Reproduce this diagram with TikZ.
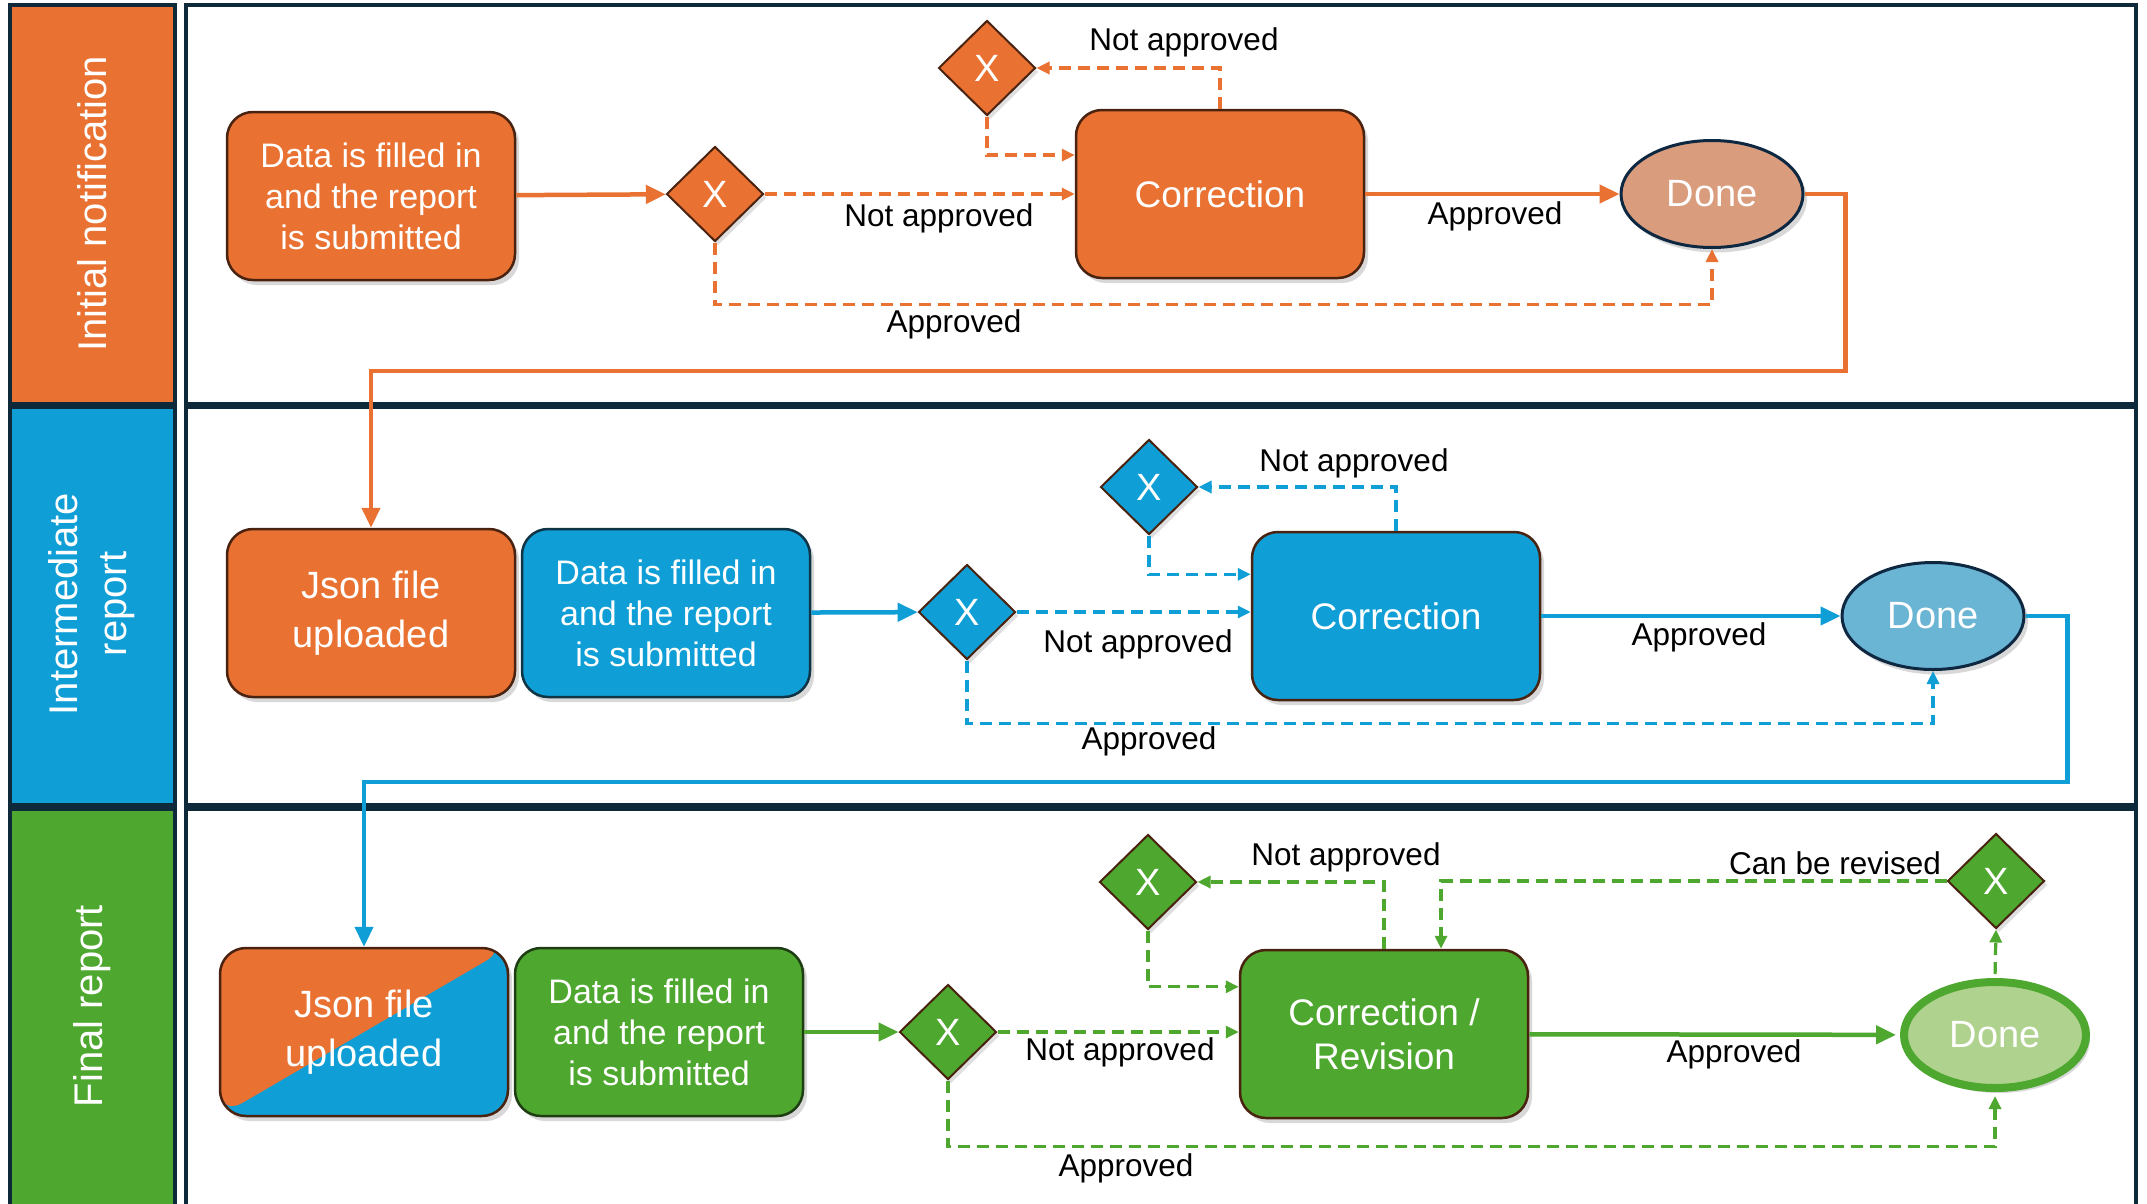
\documentclass[tikz,border=0pt]{standalone}
\usepackage{fontspec}
\setmainfont{Liberation Sans}
\usetikzlibrary{shapes.geometric,arrows.meta,shadows,calc}
\definecolor{cO}{HTML}{E97132}
\definecolor{cB}{HTML}{0F9ED5}
\definecolor{cG}{HTML}{4EA72E}
\definecolor{cOd}{HTML}{D99C7C}
\definecolor{cBd}{HTML}{6AB4D4}
\definecolor{cGd}{HTML}{B0D28F}
\definecolor{cBrown}{HTML}{4A2310}
\definecolor{cNavy}{HTML}{0E2841}
\definecolor{cNavyB}{HTML}{0E3446}
\definecolor{cDG}{HTML}{1E3D12}
\definecolor{cFrame}{HTML}{0E2A3A}
\begin{document}
\begin{tikzpicture}[x=1pt,y=-1pt,
  frame/.style={draw=cFrame, line width=3.5pt},
  lanetitle/.style={rotate=90, text=white, align=center, font=\fontsize{40}{49}\selectfont},
  box/.style={rectangle, rounded corners=26pt, minimum width=288pt, minimum height=168pt,
    draw=cBrown, line width=2.5pt, text=white, align=center, inner sep=0pt,
    font=\fontsize{34}{41}\selectfont,
    drop shadow={opacity=0.3, shadow xshift=4pt, shadow yshift=-5pt}},
  big/.style={font=\fontsize{37}{44}\selectfont},
  bigj/.style={font=\fontsize{38}{49}\selectfont},
  dia/.style={diamond, draw=cBrown, line width=2pt, minimum width=97pt, minimum height=95pt,
    inner sep=0pt, text=white, font=\fontsize{38}{40}\selectfont,
    drop shadow={opacity=0.25, shadow xshift=3pt, shadow yshift=-4pt}},
  done/.style={ellipse, draw=cNavy, line width=3pt, minimum width=182pt, minimum height=107pt,
    inner sep=0pt, text=white, font=\fontsize{38}{44}\selectfont,
    drop shadow={opacity=0.3, shadow xshift=4pt, shadow yshift=-5pt}},
  lbl/.style={text=black, inner sep=0pt, font=\fontsize{31.5}{36}\selectfont},
  flow/.style={line width=4.5pt, -{Triangle[length=20pt,width=18pt]}},
  dflow/.style={line width=3.2pt, dash pattern=on 12pt off 7pt, -{Triangle[length=13pt,width=12pt]}}
]
\useasboundingbox (0,0) rectangle (2147,1203);
\fill[white] (0,0) rectangle (2147,1203);

% lanes
\draw[frame, fill=cO] (10,5) rectangle (175,404);
\draw[frame, fill=cB] (10,407) rectangle (175,805);
\draw[frame, fill=cG] (10,809) rectangle (175,1215);
\draw[frame, fill=white] (186,5) rectangle (2136,404);
\draw[frame, fill=white] (186,407) rectangle (2136,805);
\draw[frame, fill=white] (186,809) rectangle (2136,1215);

\node[lanetitle] (L1) at (92,204) {Initial notification};
\node[lanetitle] (L2) at (92,604) {Intermediate\\report};
\node[lanetitle] (L3) at (92,1006) {Final report};

% row 1
\node[box, fill=cO] (A1) at (371,196) {Data is filled in\\and the report\\is submitted};
\node[dia, fill=cO] (D1) at (715,194) {X};
\node[dia, fill=cO] (D1b) at (987,68) {X};
\node[box, big, fill=cO] (C1) at (1220,194) {Correction};
\node[done, fill=cOd] (E1) at (1712,194) {Done};

% row 2
\node[box, bigj, fill=cO] (J2) at (371,613) {Json file\\uploaded};
\node[box, fill=cB, draw=cNavyB] (A2) at (666,613) {Data is filled in\\and the report\\is submitted};
\node[dia, fill=cB] (D2) at (967,612) {X};
\node[dia, fill=cB] (D2b) at (1149,487) {X};
\node[box, big, fill=cB] (C2) at (1396,616) {Correction};
\node[done, fill=cBd] (E2) at (1933,616) {Done};

% row 3
\node[box, bigj, fill=cB, path picture={\fill[cO] (path picture bounding box.south west) -- (path picture bounding box.north west) -- (path picture bounding box.north east) -- cycle;}] (J3) at (364,1032) {Json file\\uploaded};
\node[box, fill=cG, draw=cDG] (A3) at (659,1032) {Data is filled in\\and the report\\is submitted};
\node[dia, fill=cG] (D3) at (948,1032) {X};
\node[dia, fill=cG] (D3b) at (1148,882) {X};
\node[box, big, fill=cG] (C3) at (1384,1034) {Correction /\\Revision};
\node[done, fill=cGd, draw=cG, line width=8pt, minimum width=182pt, minimum height=106pt] (E3) at (1995,1035) {Done};
\node[dia, fill=cG] (D3c) at (1996,881) {X};

% labels
\node[lbl] (t1) at (939,218) {Not approved};
\node[lbl] (t2) at (954,324) {Approved};
\node[lbl] (t3) at (1184,42) {Not approved};
\node[lbl] (t4) at (1495,216) {Approved};
\node[lbl] (t5) at (1138,644) {Not approved};
\node[lbl] (t6) at (1149,741) {Approved};
\node[lbl] (t7) at (1354,463) {Not approved};
\node[lbl] (t8) at (1699,637) {Approved};
\node[lbl] (t9) at (1120,1052) {Not approved};
\node[lbl] (t10) at (1126,1168) {Approved};
\node[lbl] (t11) at (1346,857) {Not approved};
\node[lbl] (t12) at (1835,863) {Can be revised};
\node[lbl] (t13) at (1734,1054) {Approved};

% connectors row 1
\draw[flow, cO] (A1) -- (D1);
\draw[dflow, cO] (D1) -- (C1);
\draw[dflow, cO] (D1.south) -- ++(0,62) -| (E1.south);
\draw[dflow, cO] (C1.north) |- (D1b.east);
\draw[dflow, cO] (D1b.south) |- (C1.165);
\draw[flow, cO] (C1) -- (E1);
\draw[flow, cO] (E1.east) -- ++(41,0) -- ++(0,177) -| (J2.north);

% connectors row 2
\draw[flow, cB] (A2) -- (D2);
\draw[dflow, cB] (D2.east) -- (D2.east -| C2.west);
\draw[dflow, cB] (D2.south) -- ++(0,63) -| (E2.south);
\draw[dflow, cB] (C2.north) |- (D2b.east);
\draw[dflow, cB] (D2b.south) |- (C2.164);
\draw[flow, cB] (C2) -- (E2);
\draw[flow, cB] (E2.east) -- ++(42,0) -- ++(0,166) -| (J3.north);

% connectors row 3
\draw[flow, cG] (A3) -- (D3);
\draw[dflow, cG] (D3.east) -- (D3.east -| C3.west);
\draw[dflow, cG, shorten >=4pt] (D3.south) -- ++(0,66) -| (E3.south);
\draw[dflow, cG] (C3.north) |- (D3b.east);
\draw[dflow, cG] (D3b.south) |- (C3.162);
\draw[flow, cG, shorten >=4pt] (C3) -- (E3);
\draw[dflow, cG, shorten <=4pt] (E3.north) -- (D3c.south);
\draw[dflow, cG] (D3c.west) -| ([xshift=57pt]C3.north);
\end{tikzpicture}
\end{document}
